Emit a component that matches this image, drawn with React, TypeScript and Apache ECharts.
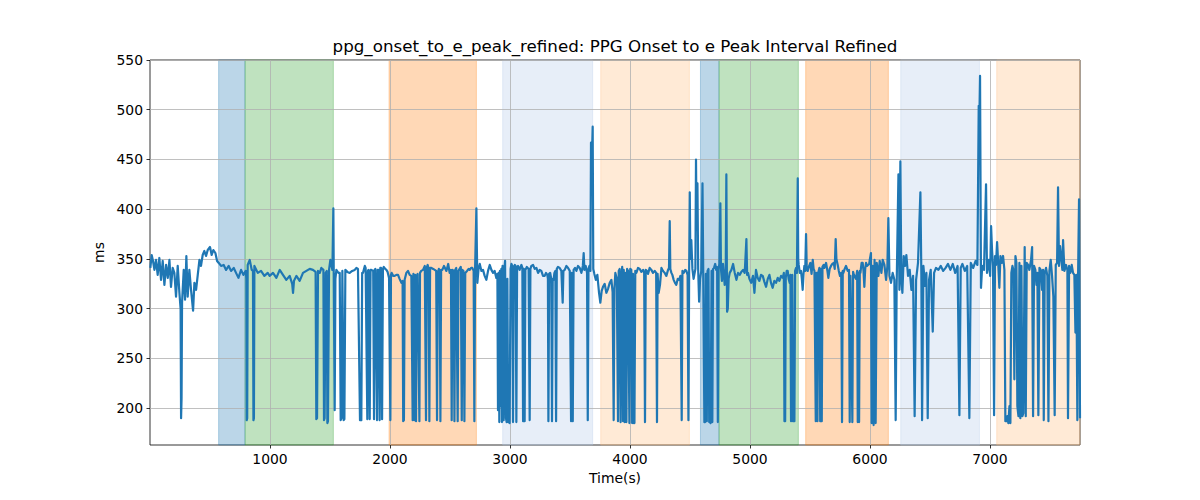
import React, { useEffect, useRef } from 'react';
import * as echarts from 'echarts';

const TITLE = 'ppg_onset_to_e_peak_refined: PPG Onset to e Peak Interval Refined';
const X_LABEL = 'Time(s)';
const Y_LABEL = 'ms';

const xTicks = [1000, 2000, 3000, 4000, 5000, 6000, 7000];
const yTicks = [200, 250, 300, 350, 400, 450, 500, 550];

const spanStarts = [572, 792, 1992, 2939, 3756, 4587, 4742, 5464, 6256, 7056];
const spanEnds = [792, 1528, 2720, 3689, 4495, 4742, 5403, 6153, 6912, 7750];
const spanColors = [
  'rgba(31,119,180,0.3)',
  'rgba(44,160,44,0.3)',
  'rgba(255,127,14,0.3)',
  'rgba(174,199,232,0.3)',
  'rgba(255,187,120,0.3)',
  'rgba(31,119,180,0.3)',
  'rgba(44,160,44,0.3)',
  'rgba(255,127,14,0.3)',
  'rgba(174,199,232,0.3)',
  'rgba(255,187,120,0.3)',
];

// [time (s), interval (ms)]
const samples: [number, number][] = [
  [3,341],[14,354],[25,348],[37,339],[50,349],[64,334],[78,351],[92,329],[106,348],[120,324],[134,344],[148,331],[162,349],[175,322],[189,341],[203,336],[217,312],[231,343],[245,316],[255,300],[259,190],[263,210],[267,306],[281,339],[292,309],[303,353],[314,312],[328,339],[342,319],[359,298],[370,326],[384,319],[398,334],[412,349],[425,343],[439,354],[453,358],[467,353],[481,359],[500,362],[514,354],[528,359],[545,356],[559,348],[573,346],[592,343],[614,344],[634,339],[656,343],[675,338],[698,341],[717,336],[737,331],[759,339],[778,334],[798,338],[803,330],[806,188],[810,190],[814,344],[831,349],[848,339],[858,338],[862,188],[866,190],[870,343],[898,336],[925,338],[953,333],[981,336],
  [997,333],[1025,336],[1053,331],[1081,339],[1108,334],[1136,329],[1164,333],[1185,325],[1192,316],[1200,328],[1220,333],[1247,328],[1275,336],[1303,338],[1331,340],[1358,339],[1380,337],[1386,189],[1392,190],[1400,338],[1415,336],[1428,341],[1445,339],[1450,188],[1455,190],[1464,336],[1473,338],[1478,185],[1483,187],[1492,339],[1503,349],[1520,339],[1528,401],[1533,300],[1539,198],[1545,330],[1553,339],
  [1570,336],[1581,336],[1589,188],[1596,190],[1603,338],[1614,188],[1620,189],[1628,339],[1645,337],[1664,336],[1685,338],[1706,339],[1720,341],[1733,340],[1750,188],[1755,190],[1761,188],[1768,336],[1775,336],[1790,343],[1797,341],[1811,189],[1816,338],[1820,339],[1831,189],[1838,339],[1845,339],[1860,338],[1867,189],[1872,339],[1878,340],[1892,188],[1897,339],[1903,339],[1914,188],[1919,341],[1925,341],[1934,189],[1941,340],[1948,342],[1960,340],[1970,339],[1980,337],[1992,331],
  [2003,188],[2008,334],[2014,336],[2027,333],[2039,333],[2053,334],[2067,334],[2080,330],[2095,326],[2105,328],[2110,187],[2116,188],[2122,329],[2136,336],[2150,338],[2164,334],[2178,333],[2189,188],[2195,335],[2203,188],[2209,334],[2217,187],[2222,333],[2230,335],[2245,187],[2250,336],[2260,338],[2275,339],[2290,343],[2300,188],[2306,341],[2314,344],[2322,340],[2328,187],[2334,341],[2345,341],[2360,340],[2373,339],[2385,338],[2392,188],[2398,336],[2407,340],[2414,338],[2420,187],[2426,339],[2436,339],[2450,343],[2470,338],[2485,345],[2497,336],
  [2508,339],[2514,188],[2520,339],[2530,338],[2537,187],[2543,339],[2552,341],[2564,187],[2570,338],[2580,340],[2590,342],[2598,188],[2604,339],[2612,338],[2620,187],[2627,336],[2642,338],[2655,340],[2664,339],[2676,341],[2686,341],[2697,338],[2703,187],[2709,340],[2720,401],[2724,360],[2728,326],[2738,340],[2748,345],[2762,338],[2775,339],[2789,333],[2803,329],[2817,338],[2831,344],[2845,339],[2859,336],[2872,338],[2886,331],
  [2895,335],[2900,198],[2906,336],[2911,186],[2916,338],[2922,202],[2928,340],[2933,186],[2938,343],[2947,188],[2953,340],[2959,348],[2966,190],[2972,186],[2978,330],[2984,186],[2990,186],[2997,185],[3005,340],[3012,345],[3019,343],[3025,186],[3031,342],[3040,344],[3047,343],[3053,186],[3059,341],[3067,343],[3080,339],[3095,344],[3103,341],[3109,187],[3115,340],[3122,187],[3128,339],[3140,342],[3155,340],[3164,188],[3170,340],[3178,343],[3192,344],[3206,340],[3220,341],[3234,336],[3248,339],[3261,338],[3275,333],[3289,333],[3300,336],[3311,334],[3316,330],[3320,187],[3326,335],[3335,336],[3344,330],[3350,187],[3356,330],[3363,329],[3370,336],[3378,338],[3384,187],[3390,340],[3400,342],[3414,341],[3428,338],[3439,306],[3445,338],[3456,339],[3470,343],[3484,341],[3498,338],[3509,187],[3515,336],[3523,187],[3530,339],[3542,341],[3553,338],[3567,343],[3581,341],[3595,336],[3607,343],[3614,356],[3620,339],[3631,343],[3642,336],[3648,188],[3654,340],[3662,343],[3670,338],[3675,467],[3680,440],[3689,483],[3694,340],[3703,335],
  [3715,329],[3728,334],[3742,316],[3753,306],[3764,318],[3775,322],[3789,325],[3803,316],[3817,320],[3831,326],[3845,329],[3855,317],[3864,188],[3870,320],[3878,336],[3890,330],[3900,187],[3906,338],[3914,340],[3922,186],[3928,330],[3935,342],[3942,187],[3948,339],[3956,186],[3962,336],[3970,186],[3976,340],[3984,338],[3995,185],[4002,340],[4011,339],[4018,185],[4025,335],[4031,185],[4037,185],[4044,338],[4053,336],[4067,341],[4081,340],[4095,337],[4109,339],[4118,336],[4125,186],[4131,339],[4140,338],[4150,335],[4164,341],[4178,339],[4192,336],[4206,338],[4218,336],[4225,186],[4230,335],[4239,316],[4250,324],[4262,341],[4275,338],[4289,336],[4303,333],[4317,339],[4325,341],[4331,388],[4336,340],[4345,336],[4353,334],[4364,329],[4375,326],[4386,324],[4398,330],[4409,329],[4420,333],[4431,188],[4437,338],[4448,336],[4460,339],[4470,338],[4480,334],[4487,188],[4493,340],[4498,417],[4503,350],[4511,369],[4520,340],[4530,330],[4539,336],
  [4545,340],[4550,450],[4555,380],[4562,426],[4568,340],[4576,307],[4584,330],[4594,338],[4604,426],[4610,340],[4620,186],[4626,186],[4632,335],[4640,187],[4646,338],[4654,340],[4660,186],[4666,186],[4672,185],[4680,338],[4686,186],[4692,340],[4700,341],[4710,345],[4718,339],[4726,342],[4732,186],[4738,340],[4745,345],[4753,406],[4758,340],[4766,328],[4775,345],[4789,324],[4798,340],[4803,435],[4809,297],[4815,300],[4822,330],[4831,336],[4845,339],[4859,345],[4873,336],[4887,329],[4900,336],[4914,334],[4928,337],[4942,339],[4956,336],[4970,370],[4976,334],[4984,336],
  [4995,330],[5010,326],[5025,333],[5037,316],[5050,339],[5064,331],[5078,328],[5092,334],[5106,333],[5120,327],[5134,322],[5148,330],[5162,334],[5175,326],[5189,321],[5203,328],[5217,326],[5231,331],[5245,328],[5259,333],[5273,331],[5282,336],[5287,187],[5293,187],[5298,331],[5306,338],[5314,338],[5322,330],[5331,326],[5337,334],[5342,187],[5348,333],[5353,334],[5358,187],[5364,187],[5370,187],[5376,338],[5384,341],[5391,336],[5398,431],[5402,350],[5406,344],[5415,336],[5425,338],[5432,330],[5439,319],[5446,335],[5453,343],[5460,338],[5467,375],[5473,340],[5481,338],
  [5490,342],[5503,346],[5513,335],[5523,349],[5530,340],[5537,338],[5548,187],[5554,336],[5562,187],[5568,336],[5578,341],[5585,187],[5591,340],[5598,187],[5604,342],[5614,344],[5620,341],[5634,346],[5645,338],[5653,331],[5664,340],[5675,343],[5686,345],[5698,346],[5706,340],[5714,370],[5720,350],[5731,344],[5740,338],[5750,333],[5760,336],[5767,186],[5773,338],[5778,336],[5789,340],[5800,343],[5814,338],[5825,339],[5831,186],[5837,333],[5842,333],[5853,186],[5859,337],[5864,335],[5874,332],[5884,330],[5893,338],[5898,186],[5904,336],[5909,186],[5915,338],[5920,336],[5930,346],[5939,346],[5946,338],[5953,322],[5960,340],[5967,346],[5975,343],[5993,345],[5998,349],
  [6008,356],[6014,185],[6022,343],[6030,183],[6038,349],[6047,185],[6056,346],[6070,333],[6081,348],[6095,336],[6106,349],[6120,344],[6134,329],[6145,343],[6153,391],[6162,333],[6175,326],[6189,336],[6203,329],[6214,188],[6222,322],[6237,435],[6245,319],[6253,448],[6261,329],[6270,316],[6281,353],[6292,343],[6303,354],[6317,333],[6331,339],[6345,319],[6359,333],[6372,192],[6384,329],[6400,346],[6420,417],[6428,333],[6434,188],[6445,343],[6459,323],[6470,336],[6481,190],[6492,329],[6506,339],[6523,277],[6534,336],[6550,341],[6570,339],[6590,343],[6610,338],[6630,341],[6650,345],[6670,339],[6690,345],[6710,336],[6730,343],[6745,193],[6756,341],[6770,345],[6790,338],[6810,343],[6828,190],[6840,346],[6860,341],[6880,348],[6895,344],[6906,504],[6910,480],[6917,534],[6925,321],[6935,343],[6950,339],[6967,425],[6975,336],[6990,349],[7001,333],[7009,383],
  [7017,359],[7025,343],[7034,193],[7042,353],[7050,344],[7059,367],[7067,349],[7078,321],[7087,353],[7098,346],[7109,353],[7120,339],[7128,187],[7137,187],[7145,192],[7153,185],[7162,202],[7170,185],[7178,336],[7187,343],[7195,339],[7203,229],[7212,353],[7220,346],[7228,202],[7237,192],[7245,346],[7253,190],[7262,343],[7270,192],[7278,195],[7289,362],[7298,192],[7306,346],[7317,344],[7328,339],[7342,349],[7351,362],[7359,192],[7367,343],[7378,339],[7387,324],[7395,336],[7403,193],[7412,341],[7423,339],[7434,319],[7442,339],[7448,188],[7456,336],[7467,341],[7478,333],[7487,187],[7495,338],[7506,349],[7517,333],[7528,312],[7539,193],[7548,344],[7559,346],[7567,422],[7575,343],[7584,363],[7595,349],[7603,339],[7609,369],[7620,338],[7634,344],[7645,339],[7650,190],[7659,343],[7670,336],[7681,344],[7692,336],[7703,334],[7712,276],[7720,334],[7728,188],[7734,333],[7742,410],[7750,190],
];

const FONT = 'DejaVu Sans';

export default function App() {
  const ref = useRef<HTMLDivElement>(null);

  useEffect(() => {
    if (!ref.current) return;
    const chart = echarts.init(ref.current, null, { renderer: 'svg' });

    const spanData = spanStarts.map((s, i) => [
      {
        xAxis: s,
        itemStyle: { color: spanColors[i], borderColor: spanColors[i], borderWidth: 1 },
      },
      { xAxis: spanEnds[i] },
    ]);

    const gridLines = [
      ...xTicks.map((v) => ({ xAxis: v })),
      ...yTicks.map((v) => ({ yAxis: v })),
    ];

    chart.setOption({
      animation: false,
      textStyle: { fontFamily: FONT },
      graphic: [
        {
          type: 'text',
          x: 615,
          y: 46,
          style: {
            text: TITLE,
            textAlign: 'center',
            textVerticalAlign: 'middle',
            fontSize: 16.7,
            fontFamily: FONT,
            fill: '#000',
          },
        },
      ],
      grid: {
        left: 150,
        right: 120,
        top: 60,
        bottom: 55,
        show: true,
        borderColor: '#000',
        borderWidth: 0.8,
        backgroundColor: 'transparent',
        containLabel: false,
        outerBoundsMode: 'none',
      },
      xAxis: {
        type: 'value',
        min: 0,
        max: 7750,
        interval: 1000,
        name: X_LABEL,
        nameLocation: 'middle',
        nameGap: 26,
        nameTextStyle: { fontSize: 13.9, color: '#000', fontFamily: FONT },
        axisLine: { show: false },
        axisTick: {
          show: true,
          length: 3.5,
          lineStyle: { color: '#000', width: 0.8 },
          customValues: xTicks,
        },
        axisLabel: {
          customValues: xTicks,
          formatter: (v: number) => String(v),
          margin: 7,
          fontSize: 13.9,
          color: '#000',
          fontFamily: FONT,
        },
        splitLine: { show: false },
      },
      yAxis: {
        type: 'value',
        min: 163,
        max: 550,
        name: Y_LABEL,
        nameLocation: 'middle',
        nameGap: 42,
        nameTextStyle: { fontSize: 13.9, color: '#000', fontFamily: FONT },
        axisLine: { show: false },
        axisTick: {
          show: true,
          length: 3.5,
          lineStyle: { color: '#000', width: 0.8 },
          customValues: yTicks,
        },
        axisLabel: {
          customValues: yTicks,
          formatter: (v: number) => String(v),
          margin: 7,
          fontSize: 13.9,
          color: '#000',
          fontFamily: FONT,
        },
        splitLine: { show: false },
      },
      series: [
        {
          type: 'line',
          data: samples,
          showSymbol: false,
          symbol: 'none',
          z: 3,
          lineStyle: { color: '#1f77b4', width: 2.2, join: 'round' },
          emphasis: { disabled: true },
          markArea: {
            silent: true,
            z: 1,
            data: spanData,
            emphasis: { disabled: true },
          },
          markLine: {
            silent: true,
            z: 2,
            symbol: ['none', 'none'],
            label: { show: false },
            emphasis: { disabled: true },
            lineStyle: { color: '#b0b0b0', width: 0.8, type: 'solid' },
            data: gridLines,
          },
        },
      ],
    });

    return () => {
      chart.dispose();
    };
  }, []);

  return (
    <div
      ref={ref}
      style={{ position: 'absolute', left: 0, top: 0, width: 1200, height: 500 }}
    />
  );
}
